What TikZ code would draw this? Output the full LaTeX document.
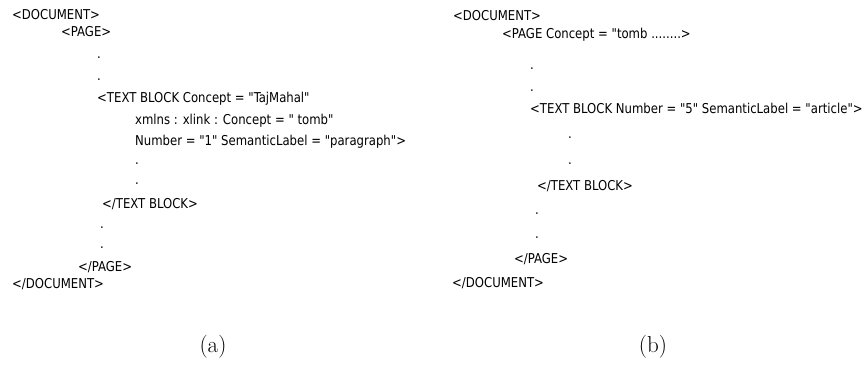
\documentclass[tikz,border=0pt]{standalone}
\usepackage{fontspec}
\newfontfamily\xmlfont[FakeStretch=0.955]{DejaVu Sans Condensed}
\begin{document}
\begin{tikzpicture}[x=1pt,y=-1pt,
  xmltxt/.style={anchor=base west,inner sep=0pt,font=\xmlfont\fontsize{13.6}{16}\selectfont},
  captxt/.style={anchor=base,inner sep=0pt,font=\fontsize{23}{28}\selectfont}]
\useasboundingbox (0,0) rectangle (868,365);
% (a)
\node[xmltxt] (a1) at (12,19) {<DOCUMENT>};
\node[xmltxt] (a2) at (61,36) {<PAGE>};
\node[xmltxt] (a3) at (97,58) {.};
\node[xmltxt] (a4) at (97,80) {.};
\node[xmltxt] (a5) at (97,102) {<TEXT BLOCK Concept = "TajMahal"};
\node[xmltxt] (a6) at (135,124) {xmlns : xlink : Concept = " tomb"};
\node[xmltxt] (a7) at (135,145) {Number = "1" SemanticLabel = "paragraph">};
\node[xmltxt] (a8) at (135,164) {.};
\node[xmltxt] (a9) at (135,184) {.};
\node[xmltxt] (a10) at (102,208) {</TEXT BLOCK>};
\node[xmltxt] (a11) at (100,228) {.};
\node[xmltxt] (a12) at (100,248) {.};
\node[xmltxt] (a13) at (78,271) {</PAGE>};
\node[xmltxt] (a14) at (12,288) {</DOCUMENT>};
% (b)
\node[xmltxt] (b1) at (453,20) {<DOCUMENT>};
\node[xmltxt] (b2) at (502,38) {<PAGE Concept = "tomb ........>};
\node[xmltxt] (b3) at (530,69) {.};
\node[xmltxt] (b4) at (530,91) {.};
\node[xmltxt] (b5) at (530,113) {<TEXT BLOCK Number = "5" SemanticLabel = "article">};
\node[xmltxt] (b6) at (568,138) {.};
\node[xmltxt] (b7) at (568,164) {.};
\node[xmltxt] (b8) at (537,190) {</TEXT BLOCK>};
\node[xmltxt] (b9) at (535,214) {.};
\node[xmltxt] (b10) at (535,238) {.};
\node[xmltxt] (b11) at (514,263) {</PAGE>};
\node[xmltxt] (b12) at (452,287) {</DOCUMENT>};
% captions
\node[captxt] (capa) at (213,352) {(a)};
\node[captxt] (capb) at (653,352) {(b)};
\end{tikzpicture}
\end{document}
